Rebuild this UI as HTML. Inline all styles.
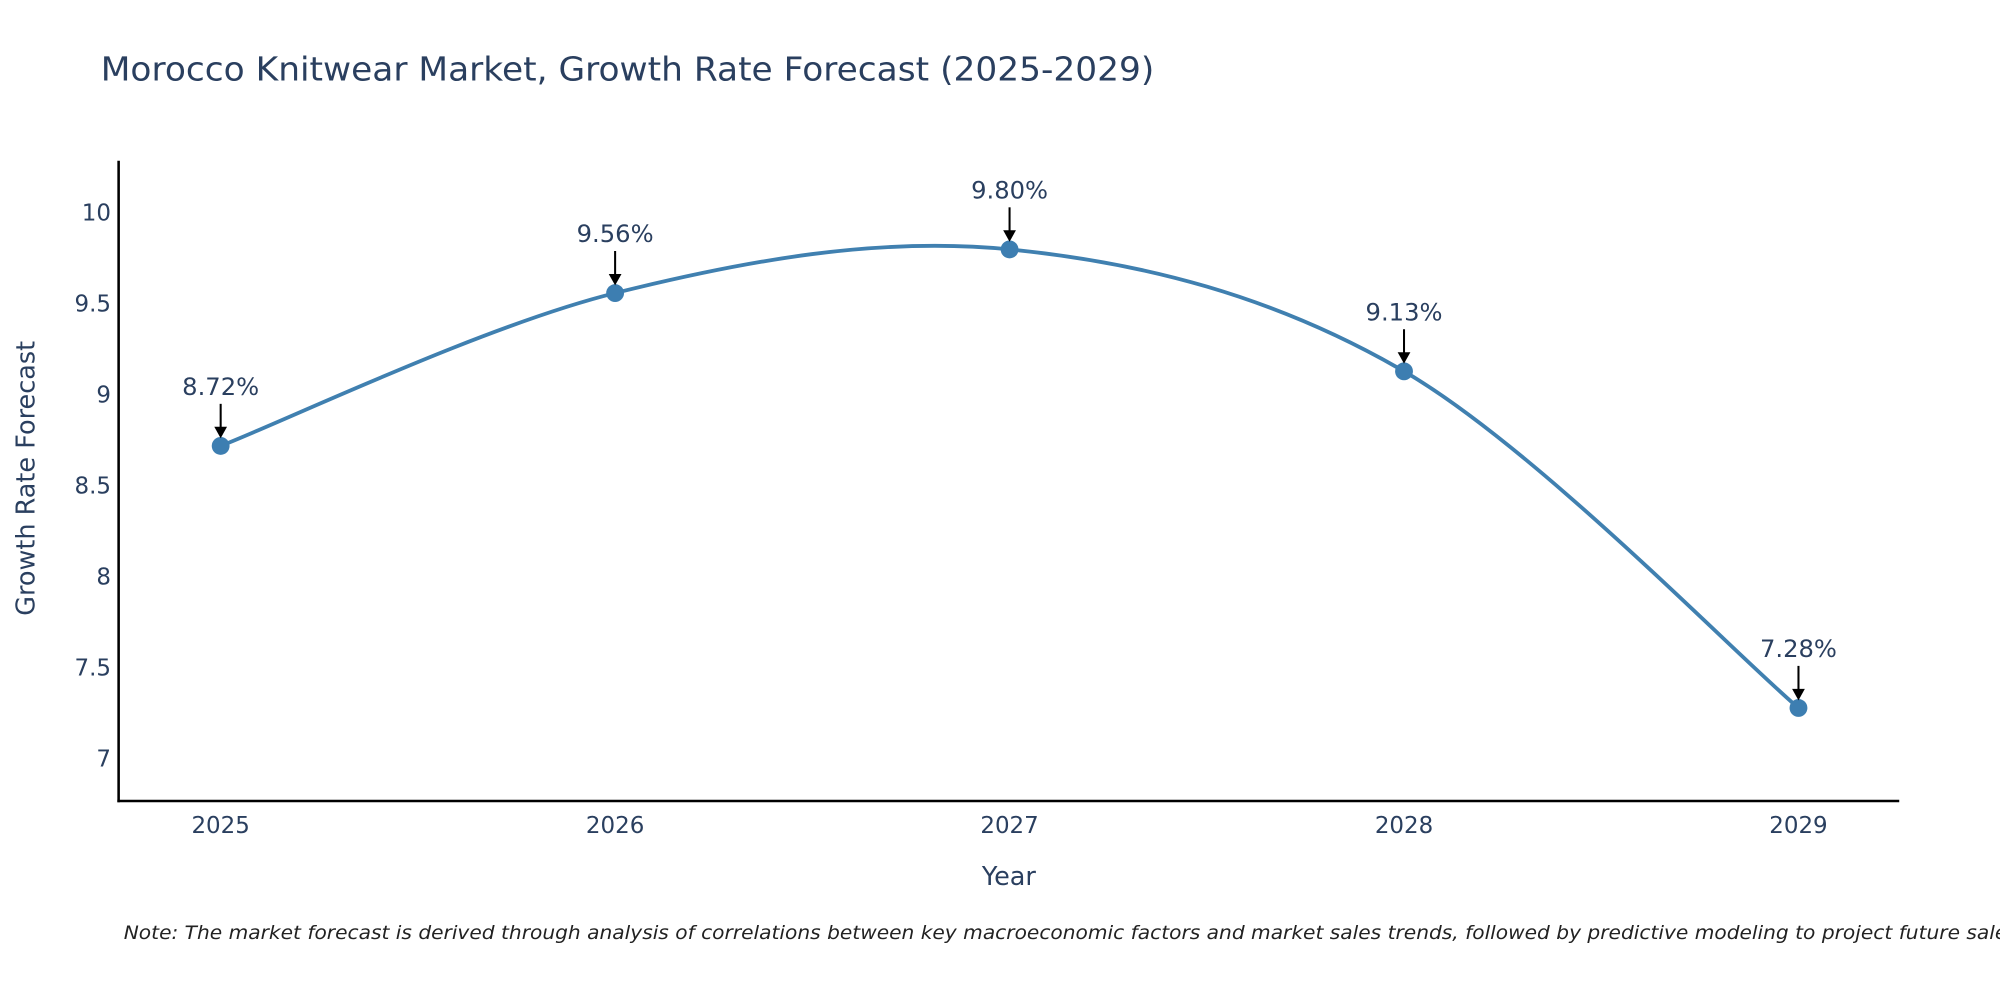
<!DOCTYPE html>
<html><head><meta charset="utf-8"><style>
html,body{margin:0;padding:0;background:#fff;}
svg{display:block;font-family:"DejaVu Sans","Liberation Sans",sans-serif;}
</style></head><body>
<svg width="2000" height="1000" viewBox="0 0 1568 784">
<text x="79" y="63" font-size="26" fill="#2a3f5f" textLength="826" lengthAdjust="spacingAndGlyphs">Morocco Knitwear Market, Growth Rate Forecast (2025-2029)</text>
<g id="axes"></g>
<g id="plot"></g>
<text x="27" y="375" font-size="20" fill="#2a3f5f" text-anchor="middle" transform="rotate(-90 27 375)">Growth Rate Forecast</text>
<text x="791" y="694" font-size="20" fill="#2a3f5f" text-anchor="middle">Year</text>
<text x="97" y="736" font-size="14.5" font-style="italic" fill="#222" textLength="1490" lengthAdjust="spacingAndGlyphs">Note: The market forecast is derived through analysis of correlations between key macroeconomic factors and market sales trends, followed by predictive modeling to project future sales.</text>
</svg>
<script>
const years = [2025, 2026, 2027, 2028, 2029];
const growth = [8.72, 9.56, 9.80, 9.13, 7.28];
const labels = ["8.72%", "9.56%", "9.80%", "9.13%", "7.28%"];
const yTicks = [7, 7.5, 8, 8.5, 9, 9.5, 10];
const yTickLabels = ["7", "7.5", "8", "8.5", "9", "9.5", "10"];

const NS = "http://www.w3.org/2000/svg";
const X = v => 173 + (v - 2025) * (1410 - 173) / 4;
const Y = v => 595 - (v - 7) * (595 - 167) / 3;
function mk(tag, attrs, parent, txt) {
  const e = document.createElementNS(NS, tag);
  for (const k in attrs) e.setAttribute(k, attrs[k]);
  if (txt !== undefined) e.textContent = txt;
  parent.appendChild(e);
  return e;
}
const axes = document.getElementById('axes');
const plot = document.getElementById('plot');
const yAxis = mk('line', {x1: 93, y1: 126, x2: 93, y2: 629, stroke: '#000', 'stroke-width': 2}, axes);


const xAxis = mk('line', {x1: 92, y1: 628, x2: 1489, y2: 628, stroke: '#000', 'stroke-width': 2}, axes);


yTicks.forEach((t, i) => {
  const e = mk('text', {x: 87, y: Y(t) + 6, 'font-size': 18, fill: '#2a3f5f', 'text-anchor': 'end'}, axes, yTickLabels[i]);
  
  
});
years.forEach(yr => {
  const e = mk('text', {x: X(yr), y: 653, 'font-size': 18, fill: '#2a3f5f', 'text-anchor': 'middle'}, axes, String(yr));
  
  
});
const pts = years.map((yr, i) => [X(yr), Y(growth[i])]);
let d = `M${pts[0][0]},${pts[0][1]}`;
const tension = 1 / 6;
for (let i = 0; i < pts.length - 1; i++) {
  const p0 = pts[i - 1] || pts[i], p1 = pts[i], p2 = pts[i + 1], p3 = pts[i + 2] || p2;
  const c1 = [p1[0] + (p2[0] - p0[0]) * tension, p1[1] + (p2[1] - p0[1]) * tension];
  const c2 = [p2[0] - (p3[0] - p1[0]) * tension, p2[1] - (p3[1] - p1[1]) * tension];
  d += ` C${c1[0]},${c1[1]} ${c2[0]},${c2[1]} ${p2[0]},${p2[1]}`;
}
const line = mk('path', {d: d, fill: 'none', stroke: '#4080b0', 'stroke-width': 3}, plot);


pts.forEach((p, i) => {
  const c = mk('circle', {cx: p[0], cy: p[1], r: 7, fill: '#3d7eb1'}, plot);
  
  
  const a = mk('line', {x1: p[0], y1: p[1] - 33, x2: p[0], y2: p[1] - 12, stroke: '#000', 'stroke-width': 1.6}, plot);
  
  
  const h = mk('path', {d: `M${p[0] - 5},${p[1] - 15} L${p[0] + 5},${p[1] - 15} L${p[0]},${p[1] - 6} Z`, fill: '#000'}, plot);
  
  
  const t = mk('text', {x: p[0], y: p[1] - 40, 'font-size': 19, fill: '#2a3f5f', 'text-anchor': 'middle'}, plot, labels[i]);
  
  
});
</script>
</body></html>
